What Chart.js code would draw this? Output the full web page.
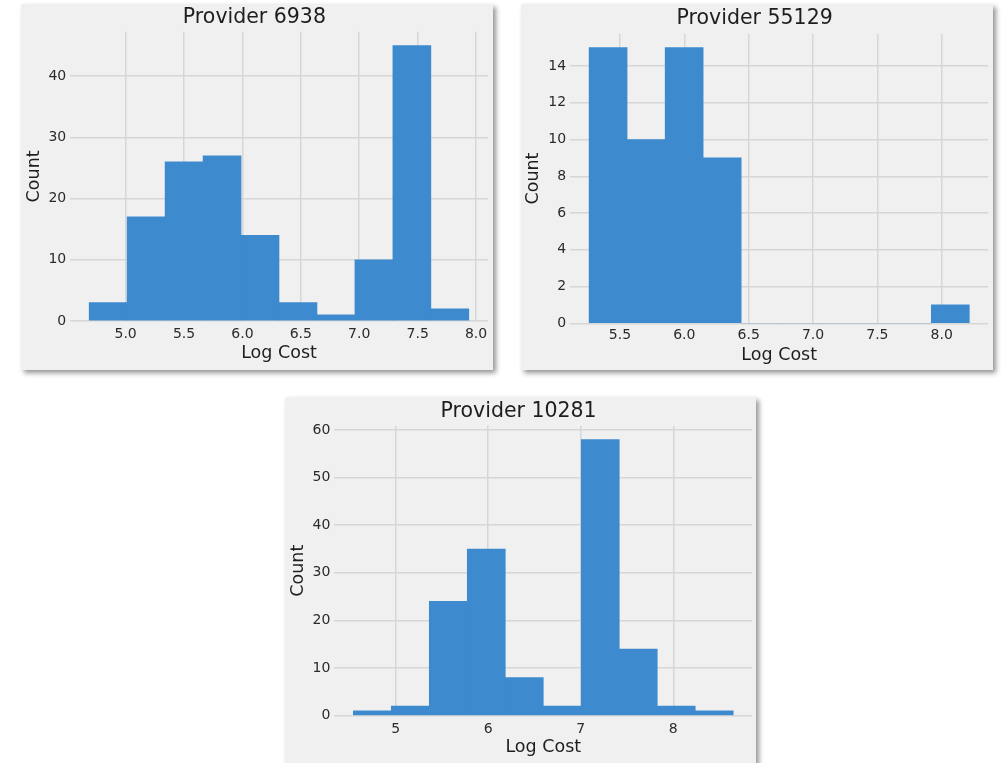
<!DOCTYPE html>
<html>
<head>
<meta charset="utf-8">
<script src="https://cdn.jsdelivr.net/npm/chart.js@4/dist/chart.umd.min.js"></script>
<style>
  html, body { margin: 0; padding: 0; background: #ffffff; width: 1003px; height: 763px; overflow: hidden; }
  .panel { position: absolute; background: #f0f0f0; box-shadow: 3px 3px 5px rgba(0,0,0,0.42); }
  .panel canvas { position: absolute; left: 0; top: 0; }
</style>
</head>
<body>
<div class="panel" id="p1" style="left:21px;top:4px;width:472px;height:366px;"><canvas id="c1" width="472" height="366"></canvas></div>
<div class="panel" id="p2" style="left:521px;top:4px;width:472px;height:366px;"><canvas id="c2" width="472" height="366"></canvas></div>
<div class="panel" id="p3" style="left:285px;top:397px;width:471px;height:368px;"><canvas id="c3" width="471" height="368"></canvas></div>
<script>
// ---- Data ----
const titles = ['Provider 6938', 'Provider 55129', 'Provider 10281'];

const edges6938 = [4.688, 5.013, 5.338, 5.663, 5.988, 6.313, 6.638, 6.963, 7.288, 7.613, 7.938];
const counts6938 = [3, 17, 26, 27, 14, 3, 1, 10, 45, 2];
const xTicks6938 = [5.0, 5.5, 6.0, 6.5, 7.0, 7.5, 8.0];
const xLabels6938 = ['5.0', '5.5', '6.0', '6.5', '7.0', '7.5', '8.0'];
const yTicks6938 = [0, 10, 20, 30, 40];

const edges55129 = [5.260, 5.555, 5.851, 6.146, 6.442, 6.737, 7.032, 7.328, 7.623, 7.919, 8.214];
const counts55129 = [15, 10, 15, 9, 0, 0, 0, 0, 0, 1];
const xTicks55129 = [5.5, 6.0, 6.5, 7.0, 7.5, 8.0];
const xLabels55129 = ['5.5', '6.0', '6.5', '7.0', '7.5', '8.0'];
const yTicks55129 = [0, 2, 4, 6, 8, 10, 12, 14];

const edges10281 = [4.542, 4.953, 5.363, 5.774, 6.184, 6.595, 7.005, 7.416, 7.826, 8.237, 8.647];
const counts10281 = [1, 2, 24, 35, 8, 2, 58, 14, 2, 1];
const xTicks10281 = [5, 6, 7, 8];
const xLabels10281 = ['5', '6', '7', '8'];
const yTicks10281 = [0, 10, 20, 30, 40, 50, 60];

// ---- Styling / layout ----
Chart.defaults.font.family = 'DejaVu Sans';
const BAR = '#3d8bce';
const GRID = '#d6d6d6';
const TXT = '#2b2b2b';

function makeHist(canvasId, title, edges, counts, xTicks, xLabels, yTicks, L) {
  const pts = counts.map((c, i) => ({ x: (edges[i] + edges[i + 1]) / 2, y: c }));
  const span = edges[edges.length - 1] - edges[0];
  const xmin = edges[0] - 0.05 * span;
  const xmax = edges[edges.length - 1] + 0.05 * span;
  const ymax = Math.max(...counts) * 1.05;
  return new Chart(document.getElementById(canvasId), {
    type: 'bar',
    data: { datasets: [{ data: pts, backgroundColor: BAR, borderWidth: 0,
      barPercentage: 1, categoryPercentage: 1 }] },
    options: {
      responsive: false, animation: false, devicePixelRatio: 1,
      layout: { padding: { left: 0, right: L.pr, top: 0, bottom: 0 } },
      plugins: {
        legend: { display: false }, tooltip: { enabled: false },
        title: { display: true, text: title, color: '#1e1e1e',
          font: { size: 20.5, weight: 'normal', lineHeight: 1.2 },
          padding: { top: L.tpt, bottom: L.tpb } }
      },
      scales: {
        x: {
          type: 'linear', min: xmin, max: xmax, offset: false,
          grid: { color: GRID, lineWidth: 1.5, drawTicks: false, offset: false },
          border: { display: false },
          afterBuildTicks: s => { s.ticks = xTicks.map(v => ({ value: v })); },
          afterFit: s => { s.height = L.xh; s.paddingLeft = 0; s.paddingRight = 0; },
          ticks: { color: TXT, font: { size: 14 }, padding: L.xtp, maxRotation: 0, autoSkip: false,
            callback: (v, i) => xLabels[i] },
          title: { display: true, text: 'Log Cost', color: '#1e1e1e', font: { size: 17.5 },
            padding: { top: 0, bottom: L.xtb } }
        },
        y: {
          type: 'linear', min: 0, max: ymax,
          grid: { color: GRID, lineWidth: 1.5, drawTicks: false },
          border: { display: false },
          afterBuildTicks: s => { s.ticks = yTicks.map(v => ({ value: v })); },
          afterFit: s => { s.width = L.yw; s.paddingTop = 0; s.paddingBottom = 0; },
          ticks: { color: TXT, font: { size: 14 }, padding: 4, autoSkip: false,
            callback: v => String(v) },
          title: { display: true, text: 'Count', color: '#1e1e1e', font: { size: 17.5 },
            padding: { top: L.ytt, bottom: 0 } }
        }
      }
    }
  });
}

makeHist('c1', titles[0], edges6938, counts6938, xTicks6938, xLabels6938, yTicks6938,
  { pr: 5.2, yw: 49.2, tpt: 1.8, tpb: 1.4, xh: 49, xtp: 5, xtb: 6.5, ytt: 2.5 });
makeHist('c2', titles[1], edges55129, counts55129, xTicks55129, xLabels55129, yTicks55129,
  { pr: 4.7, yw: 49.1, tpt: 2.7, tpb: 2.5, xh: 46.7, xtp: 4, xtb: 4.5, ytt: 1.8 });
makeHist('c3', titles[2], edges10281, counts10281, xTicks10281, xLabels10281, yTicks10281,
  { pr: 3.8, yw: 49.3, tpt: 2.1, tpb: 2.0, xh: 49.3, xtp: 4.8, xtb: 7.2, ytt: 2.8 });
</script>
</body>
</html>
